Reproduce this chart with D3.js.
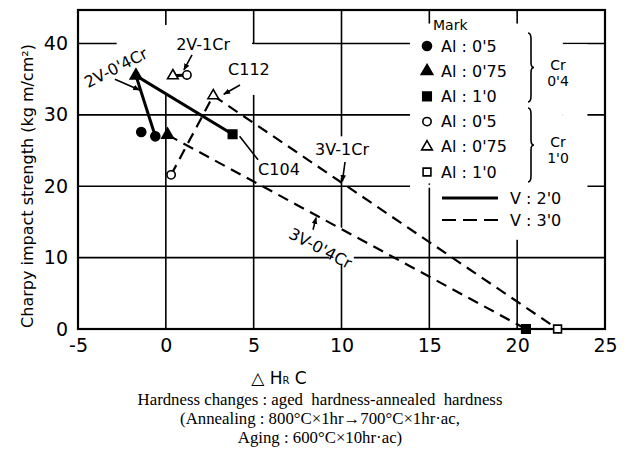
<!DOCTYPE html>
<html>
<head>
<meta charset="utf-8">
<script src="https://cdn.jsdelivr.net/npm/d3@7"></script>
<style>
  body { margin: 0; background: #fff; }
  svg { display: block; font-family: "DejaVu Sans", sans-serif; }
  .caption { font-family: "Liberation Serif", serif; white-space: pre; }
</style>
</head>
<body>
<div id="chart"></div>
<script>
const [WIDTH, HEIGHT] = [627, 468]
const MARGIN = { left: 78, right: 22, top: 10, bottom: 139 }

// ticks
const xTicks = [-5, 0, 5, 10, 15, 20, 25]
const yTicks = [0, 10, 20, 30, 40]
const xGrid = [0, 5, 10, 15, 20]
const yGrid = [10, 20, 30, 40]

// legend
const markLabels = ["Al : 0'5", "Al : 0'75", "Al : 1'0", "Al : 0'5", "Al : 0'75", "Al : 1'0"]
const crGroups = [["Cr", "0'4"], ["Cr", "1'0"]]
const vLabels = ["V : 2'0", "V : 3'0"]

// measured points (ΔHrC, Charpy); mark = index into markLabels
const pointX = [-1.4, -0.6, -1.7, 0.1, 3.8, 20.5, 0.4, 1.2, 0.3, 2.7, 22.3]
const pointY = [27.6, 27.0, 35.5, 27.2, 27.3, 0, 35.5, 35.6, 21.6, 32.7, 0]
const pointMark = [0, 0, 1, 1, 2, 2, 4, 3, 3, 4, 5]

// connecting lines
const line2V04X = [-0.6, -1.7, 3.8]
const line2V04Y = [27.0, 35.5, 27.3]
const line2V1X = [0.4, 1.2]
const line2V1Y = [35.5, 35.6]
const line3V04X = [0.1, 20.5]
const line3V04Y = [27.2, 0]
const line3V1X = [0.3, 2.7, 22.3]
const line3V1Y = [21.6, 32.7, 0]

// curve labels, placed in data units
const annotations = [
    { text: "2V-0'4Cr", at: [-2.84, 36.6], rotate: -27, from: [-2.9, 35.0], to: [-1.5, 33.5], arrow: true },
    { text: "2V-1Cr", at: [2.12, 39.9], rotate: 0, from: [1.49, 38.4], to: [1.03, 36.3], arrow: true },
    { text: "C112", at: [4.73, 36.3], rotate: 0, from: [4.22, 34.2], to: [3.3, 32.9], arrow: true },
    { text: "C104", at: [6.44, 22.4], rotate: 0, from: [5.25, 23.7], to: [4.2, 27.0], arrow: false },
    { text: "3V-1Cr", at: [10.03, 25.2], rotate: 0, from: [10.2, 23.4], to: [10.05, 20.7], arrow: true },
    { text: "3V-0'4Cr", at: [8.8, 11.3], rotate: 28, from: [8.38, 13.9], to: [8.55, 15.6], arrow: true },
]

// where the grid is broken in the original (x0, x1, y0, y1 in data units)
const GRID_GAPS = [
    [-2.8, 4.9, 32.8, 42.6],
    [4.9, 5.1, 32.8, 39.9],
    [13.9, 22.6, 20.4, 42.8],
    [22.6, 24.0, 20.4, 39.9],
    [13.9, 24.0, 19.8, 20.2],
    [19.8, 20.2, 12.5, 20.5],
    [9.8, 10.2, 21.2, 27.0],
    [9.8, 10.2, 9.1, 14.2],
    [9.3, 10.7, 9.7, 10.3],
]

const x = d3.scaleLinear([-5, 25], [MARGIN.left, WIDTH - MARGIN.right])
const y = d3.scaleLinear([0, 44.7], [HEIGHT - MARGIN.bottom, MARGIN.top])

const SHAPES = [d3.symbolCircle, d3.symbolTriangle, d3.symbolSquare]
const SIZES = [64, 58, 72]

function markPath(m) {
    const k = m % 3
    return d3.symbol(SHAPES[k], m >= 3 ? SIZES[k] * 0.85 : SIZES[k])()
}

function brace(x0, y0, y1, w) {
    const ym = (y0 + y1) / 2
    const xm = x0 + w / 2
    return `M${x0},${y0} Q${xm},${y0} ${xm},${y0 + 6} L${xm},${ym - 5} Q${xm},${ym} ${x0 + w},${ym} ` +
        `Q${xm},${ym} ${xm},${ym + 5} L${xm},${y1 - 6} Q${xm},${y1} ${x0},${y1}`
}

function main() {
    const svg = d3.select('#chart').append('svg')
        .attr('width', WIDTH)
        .attr('height', HEIGHT)
        .attr('viewBox', [0, 0, WIDTH, HEIGHT])

    svg.append('defs').append('marker')
        .attr('id', 'arrow')
        .attr('viewBox', '0 0 10 10')
        .attr('refX', 9).attr('refY', 5)
        .attr('markerWidth', 7).attr('markerHeight', 7)
        .attr('markerUnits', 'userSpaceOnUse')
        .attr('orient', 'auto')
        .append('path').attr('d', 'M0,1L10,5L0,9z')

    // grid
    const grid = svg.append('g').attr('stroke', '#000').attr('stroke-width', 1.6)
    grid.selectAll('.gx').data(xGrid).join('line')
        .attr('x1', d => x(d)).attr('x2', d => x(d))
        .attr('y1', y.range()[0]).attr('y2', y.range()[1])
    grid.selectAll('.gy').data(yGrid).join('line')
        .attr('y1', d => y(d)).attr('y2', d => y(d))
        .attr('x1', x.range()[0]).attr('x2', x.range()[1])

    svg.append('g').selectAll('rect').data(GRID_GAPS).join('rect')
        .attr('fill', '#fff')
        .attr('x', d => x(d[0])).attr('width', d => x(d[1]) - x(d[0]))
        .attr('y', d => y(d[3])).attr('height', d => y(d[2]) - y(d[3]))

    // frame
    svg.append('rect')
        .attr('x', x.range()[0]).attr('y', y.range()[1])
        .attr('width', x.range()[1] - x.range()[0])
        .attr('height', y.range()[0] - y.range()[1])
        .attr('fill', 'none').attr('stroke', '#000').attr('stroke-width', 2.2)

    // axes
    const xAxis = d3.axisBottom(x).tickValues(xTicks).tickFormat(d => String(d)).tickSize(0).tickPadding(10)
    const yAxis = d3.axisLeft(y).tickValues(yTicks).tickFormat(d => String(d)).tickSize(0).tickPadding(10)
    svg.append('g')
        .attr('transform', `translate(0,${y.range()[0]})`)
        .call(xAxis)
        .call(g => g.select('.domain').remove())
        .call(g => g.selectAll('text').attr('font-size', 19).attr('font-family', '"DejaVu Sans", sans-serif'))
    svg.append('g')
        .attr('transform', `translate(${x.range()[0]},0)`)
        .call(yAxis)
        .call(g => g.select('.domain').remove())
        .call(g => g.selectAll('text').attr('font-size', 19).attr('font-family', '"DejaVu Sans", sans-serif'))

    svg.append('text')
        .attr('transform', 'translate(27,186) rotate(-90)')
        .attr('text-anchor', 'middle').attr('dominant-baseline', 'central')
        .attr('font-size', 16)
        .text('Charpy impact strength (kg m/cm²)')

    const xt = svg.append('text')
        .attr('x', 279).attr('y', 384)
        .attr('text-anchor', 'middle')
        .attr('font-size', 17)
    xt.append('tspan').text('△ H')
    xt.append('tspan').attr('font-size', 10).text('R')
    xt.append('tspan').text(' C')

    // lines
    const line = d3.line().x(d => x(d[0])).y(d => y(d[1]))
    const lines = [
        { xs: line2V04X, ys: line2V04Y, dash: null },
        { xs: line2V1X, ys: line2V1Y, dash: null },
        { xs: line3V04X, ys: line3V04Y, dash: '11,7' },
        { xs: line3V1X, ys: line3V1Y, dash: '11,7' },
    ]
    svg.append('g').selectAll('path').data(lines).join('path')
        .attr('d', d => line(d.xs.map((v, i) => [v, d.ys[i]])))
        .attr('fill', 'none').attr('stroke', '#000')
        .attr('stroke-width', d => d.dash ? 2.2 : 3)
        .attr('stroke-dasharray', d => d.dash)

    // points
    const points = pointX.map((v, i) => ({ x: v, y: pointY[i], m: pointMark[i] }))
    svg.append('g').selectAll('path').data(points).join('path')
        .attr('transform', d => `translate(${x(d.x)},${y(d.y)})`)
        .attr('d', d => markPath(d.m))
        .attr('fill', d => d.m < 3 ? '#000' : '#fff')
        .attr('stroke', '#000').attr('stroke-width', 1.6)

    // annotations
    const ann = svg.append('g')
    ann.selectAll('line').data(annotations).join('line')
        .attr('x1', d => x(d.from[0])).attr('y1', d => y(d.from[1]))
        .attr('x2', d => x(d.to[0])).attr('y2', d => y(d.to[1]))
        .attr('stroke', '#000').attr('stroke-width', 1.6)
        .attr('marker-end', d => d.arrow ? 'url(#arrow)' : null)
    ann.selectAll('text').data(annotations).join('text')
        .attr('transform', d => `translate(${x(d.at[0])},${y(d.at[1])}) rotate(${d.rotate})`)
        .attr('text-anchor', 'middle').attr('dominant-baseline', 'central')
        .attr('font-size', 16)
        .text(d => d.text)

    // legend
    const lg = svg.append('g')
    lg.append('text').attr('x', 433).attr('y', 25)
        .attr('dominant-baseline', 'central').attr('font-size', 14).text('Mark')
    const rows = lg.selectAll('.row').data(markLabels).join('g')
        .attr('transform', (d, i) => `translate(427,${46 + i * 25.2})`)
    rows.append('path')
        .attr('d', (d, i) => markPath(i))
        .attr('fill', (d, i) => i < 3 ? '#000' : '#fff')
        .attr('stroke', '#000').attr('stroke-width', 1.6)
    rows.append('text')
        .attr('x', 14).attr('dominant-baseline', 'central')
        .attr('font-size', 16).text(d => d)

    crGroups.forEach((g, i) => {
        const y0 = i === 0 ? 33 : 108
        const y1 = i === 0 ? 102 : 182
        lg.append('path').attr('d', brace(528, y0, y1, 6))
            .attr('fill', 'none').attr('stroke', '#000').attr('stroke-width', 1.6)
        const ym = (y0 + y1) / 2
        g.forEach((t, j) => {
            lg.append('text').attr('x', 558).attr('y', ym - 3 + j * 16)
                .attr('text-anchor', 'middle').attr('dominant-baseline', 'central')
                .attr('font-size', 14).text(t)
        })
    })

    vLabels.forEach((t, i) => {
        const ly = 198 + i * 22
        lg.append('line').attr('x1', 442).attr('x2', 498).attr('y1', ly).attr('y2', ly)
            .attr('stroke', '#000').attr('stroke-width', i === 0 ? 3 : 2.2)
            .attr('stroke-dasharray', i === 0 ? null : '14,7')
        lg.append('text').attr('x', 510).attr('y', ly)
            .attr('dominant-baseline', 'central').attr('font-size', 16).text(t)
    })

    // caption
    const caption = [
        'Hardness changes : aged  hardness-annealed  hardness',
        '(Annealing : 800°C×1hr→700°C×1hr·ac,',
        'Aging : 600°C×10hr·ac)',
    ]
    svg.append('g').selectAll('text').data(caption).join('text')
        .attr('class', 'caption')
        .attr('x', 320).attr('y', (d, i) => 405 + i * 19)
        .attr('text-anchor', 'middle').attr('font-size', 16.8)
        .text(d => d)
}

main()
</script>
</body>
</html>
